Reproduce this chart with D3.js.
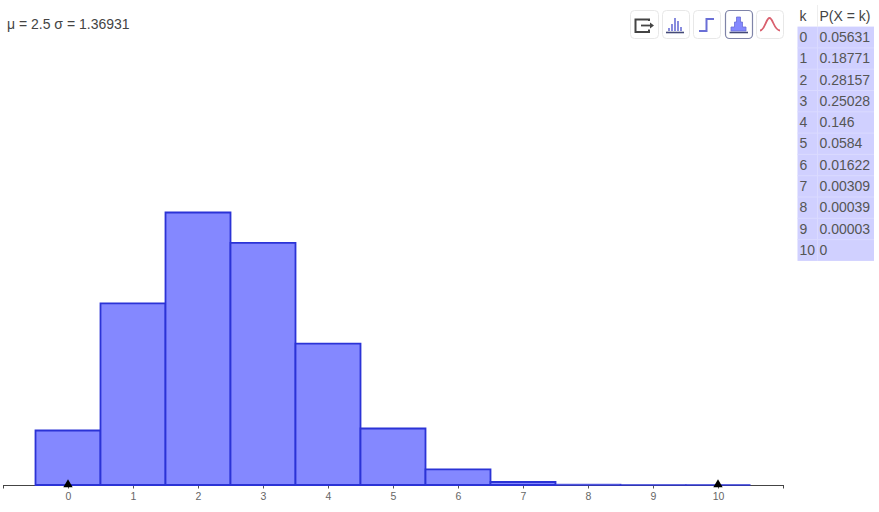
<!DOCTYPE html>
<html><head><meta charset="utf-8">
<script src="https://cdn.jsdelivr.net/npm/d3@7"></script>
<style>html,body{margin:0;padding:0;background:#fff;overflow:hidden}svg{display:block}text{font-family:"Liberation Sans",Arial,sans-serif}</style>
</head><body><svg id="c" width="879" height="512"></svg>
<script>
const kValues = [0,1,2,3,4,5,6,7,8,9,10];
const probValues = [0.05631,0.18771,0.28157,0.25028,0.146,0.0584,0.01622,0.00309,0.00039,0.00003,0];
const probLabels = ["0.05631","0.18771","0.28157","0.25028","0.146","0.0584","0.01622","0.00309","0.00039","0.00003","0"];
const summaryText = "μ = 2.5 σ = 1.36931";
const tableHeader = ["k","P(X = k)"];

const svg = d3.select("#c");
const x = d3.scaleLinear().domain([0,10]).range([68,718]);
const y = d3.scaleLinear().domain([0,0.28157]).range([485,212.5]);

svg.append("text").attr("x",7).attr("y",29).attr("font-size",14).attr("fill","#444").text(summaryText);

// axis
const axis = d3.axisBottom(x).tickValues(kValues).tickSize(3).tickPadding(4).tickFormat(d3.format("d"));
const ag = svg.append("g").attr("transform","translate(0,485.5)").call(axis);
ag.select(".domain").remove();
ag.selectAll("text").attr("font-size",10.5).attr("fill","#666").attr("font-family",'"Liberation Sans",Arial,sans-serif');
ag.selectAll("line").attr("stroke","#555");
svg.append("line").attr("x1",3).attr("x2",783.5).attr("y1",485.5).attr("y2",485.5).attr("stroke","#444").attr("stroke-width",1.2);
[3.5,783.5].forEach(px=>svg.append("line").attr("x1",px).attr("x2",px).attr("y1",485).attr("y2",488.5).attr("stroke","#444"));

// bars
svg.append("g").selectAll("path").data(kValues).join("path")
 .attr("d",(d,i)=>{
   const p=d3.path(), x0=x(d-0.5), x1=x(d+0.5), yt=y(probValues[i]), yb=y(0);
   p.moveTo(x0,yb); p.lineTo(x0,yt); p.lineTo(x1,yt); p.lineTo(x1,yb); p.closePath();
   return p.toString();
 })
 .attr("fill","#8488ff").attr("stroke","#2b33d6").attr("stroke-width",1.8).attr("stroke-opacity",(d,i)=>probValues[i]<0.001?0.75:1);

// black markers
[0,10].forEach(k=>svg.append("path")
 .attr("d",d3.symbol(d3.symbolTriangle,38)())
 .attr("transform",`translate(${x(k)},484.6)`).attr("fill","#000"));

// buttons
const btns=[[630,28,false],[662,27,false],[693,27,false],[725,27,true],[756,27,false]];
btns.forEach(([bx,w,on])=>svg.append("rect").attr("x",bx+.5).attr("y",10.5).attr("width",w).attr("height",28).attr("rx",4)
 .attr("fill","#fff").attr("stroke",on?"#7f84a8":"#e8e8e8").attr("stroke-width",on?1.2:1));
const B="#6a6fd6",D="#444a78";
// export icon
svg.append("path").attr("d","M649 21 V19.5 H635.5 V32 H649 V29.5").attr("fill","none").attr("stroke","#444").attr("stroke-width",2);
svg.append("path").attr("d","M641 25.5 H651").attr("stroke","#444").attr("stroke-width",1.8);
svg.append("path").attr("d","M650 22.5 L654 25.5 L650 28.5 Z").attr("fill","#444");
// bar-lines icon
svg.append("path").attr("d","M666 32.5 H684").attr("stroke",D).attr("stroke-width",1.6);
[[669,3],[672,7],[675,13],[678,10],[681,4]].forEach(([a,h])=>svg.append("line").attr("x1",a).attr("x2",a).attr("y1",31).attr("y2",31-h).attr("stroke",B).attr("stroke-width",1.6));
// step icon
svg.append("path").attr("d","M699 31 H706.5 V19 H714").attr("fill","none").attr("stroke",B).attr("stroke-width",2);
// histogram icon
svg.append("path").attr("d","M729.5 32.5 H748").attr("stroke",D).attr("stroke-width",1.6);
svg.append("path").attr("d","M731 31 V27 H734.5 V22 H736.5 V17 H740.5 V22 H742.5 V27 H746 V31 Z").attr("fill","#8488ff").attr("stroke",B).attr("stroke-width",.8);
// curve icon
svg.append("path").attr("d","M760 30.5 C765 30.5 766 18 769.5 18 C773 18 774 30.5 780 30.5").attr("fill","none").attr("stroke","#d9606e").attr("stroke-width",1.8);

// table
const rowH=21.3, tableTop=26.6, tx0=797.5, colX=817.5, tx1=874;
svg.append("rect").attr("x",tx0).attr("y",tableTop).attr("width",tx1-tx0).attr("height",rowH*kValues.length).attr("fill","#d0d0ff");
kValues.forEach((k,i)=>{
  const yy=tableTop+rowH*i;
  if(i>0) svg.append("line").attr("x1",tx0).attr("x2",tx1).attr("y1",yy).attr("y2",yy).attr("stroke","#dadaff");
  svg.append("text").attr("x",799.5).attr("y",yy+15.3).attr("font-size",14).attr("fill","#555").text(k);
  svg.append("text").attr("x",819.5).attr("y",yy+15.3).attr("font-size",14).attr("fill","#555").text(probLabels[i]);
});
svg.append("line").attr("x1",colX).attr("x2",colX).attr("y1",tableTop).attr("y2",tableTop+rowH*kValues.length).attr("stroke","#dadaff");
svg.append("line").attr("x1",colX).attr("x2",colX).attr("y1",5).attr("y2",tableTop).attr("stroke","#eee");
svg.append("text").attr("x",799.5).attr("y",21).attr("font-size",14).attr("fill","#444").text(tableHeader[0]);
svg.append("text").attr("x",819.5).attr("y",21).attr("font-size",14).attr("fill","#444").text(tableHeader[1]);
</script></body></html>
